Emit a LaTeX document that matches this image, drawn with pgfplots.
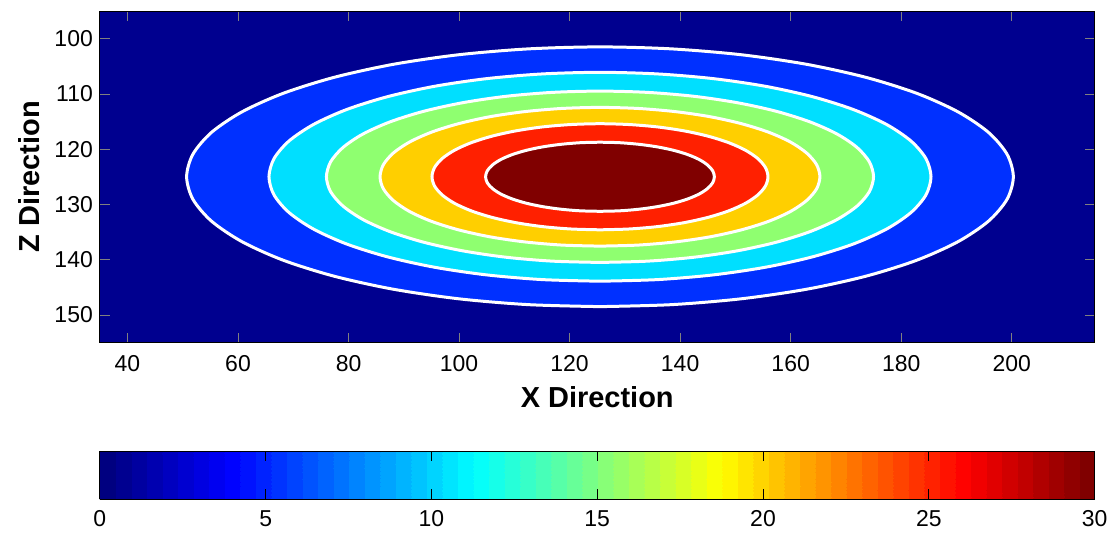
\documentclass[border=0pt]{standalone}
\usepackage{pgfplots}
\pgfplotsset{compat=1.18}
\usepackage{fontspec}
\setmainfont{Liberation Sans}
\definecolor{c0}{RGB}{0,0,143}
\definecolor{c5}{RGB}{0,48,255}
\definecolor{c10}{RGB}{0,223,255}
\definecolor{c15}{RGB}{143,255,112}
\definecolor{c20}{RGB}{255,207,0}
\definecolor{c25}{RGB}{255,32,0}
\definecolor{c30}{RGB}{128,0,0}
\pgfplotsset{colormap={basejet}{rgb255(0cm)=(0,0,128) rgb255(1cm)=(0,0,255) rgb255(3cm)=(0,255,255) rgb255(5cm)=(255,255,0) rgb255(7cm)=(255,0,0) rgb255(8cm)=(128,0,0)}}
\pgfplotsset{colormap={mjet}{samples of colormap=(64 of basejet)}}
\begin{document}
\begin{tikzpicture}
\begin{axis}[
  name=main,
  scale only axis, width=498pt, height=166pt,
  xmin=35, xmax=215, ymin=95, ymax=155, y dir=reverse,
  xtick={40,60,...,200}, ytick={100,110,...,150},
  tick align=inside, major tick length=5pt,
  axis on top,
  axis background/.style={fill=c0},
  /pgf/number format/assume math mode=true,
  ticklabel style={font=\fontsize{11.5}{13}\selectfont},
  xticklabel style={yshift=-3pt},
  xlabel={X Direction}, ylabel={Z Direction},
  label style={font=\bfseries\fontsize{14.5}{17}\selectfont},
  xlabel style={at={([yshift=-32.5pt]axis description cs:0.5,0)}, anchor=base},
  ylabel style={at={([xshift=-30pt]axis description cs:0,0.5)}, anchor=base},
  point meta min=0, point meta max=30,
  colormap name=mjet,
  colormap access=piecewise constant,
  colorbar horizontal,
  colorbar style={
    at={(parent axis.south west)}, anchor=north west, yshift=-46pt,
    scale only axis, width=498pt, height=24pt,
    axis on top,
    xtick={0,5,...,30}, tick align=inside, major tick length=5pt,
    xtick pos=both, xticklabel pos=lower,
    tick style={black, line width=0.5pt},
    ticklabel style={font=\fontsize{11.5}{13}\selectfont},
    xticklabel style={yshift=-2pt},
    /pgf/number format/assume math mode=true,
  },
]
\addplot[smooth, fill=c5, draw=white, line width=1.5pt] coordinates {
(125.5,148.5) (112.51,148.14) (99.92,147.08) (88.1,145.35) (77.42,143) (68.2,140.11) (60.72,136.75) (55.21,133.04) (51.84,129.08) (50.7,125) (51.84,120.92) (55.21,116.96) (60.72,113.25) (68.2,109.89) (77.42,107) (88.1,104.65) (99.92,102.92) (112.51,101.86) (125.5,101.5) (138.49,101.86) (151.08,102.92) (162.9,104.65) (173.58,107) (182.8,109.89) (190.28,113.25) (195.79,116.96) (199.16,120.92) (200.3,125) (199.16,129.08) (195.79,133.04) (190.28,136.75) (182.8,140.11) (173.58,143) (162.9,145.35) (151.08,147.08) (138.49,148.14) (125.5,148.5)
} -- cycle;
\addplot[smooth, fill=c10, draw=white, line width=1.5pt] coordinates {
(125.5,143.9) (115.1,143.61) (105.01,142.76) (95.55,141.37) (87,139.48) (79.61,137.15) (73.63,134.45) (69.21,131.46) (66.51,128.28) (65.6,125) (66.51,121.72) (69.21,118.54) (73.63,115.55) (79.61,112.85) (87,110.52) (95.55,108.63) (105.01,107.24) (115.1,106.39) (125.5,106.1) (135.9,106.39) (145.99,107.24) (155.45,108.63) (164,110.52) (171.39,112.85) (177.38,115.55) (181.79,118.54) (184.49,121.72) (185.4,125) (184.49,128.28) (181.79,131.46) (177.38,134.45) (171.39,137.15) (164,139.48) (155.45,141.37) (145.99,142.76) (135.9,143.61) (125.5,143.9)
} -- cycle;
\addplot[smooth, fill=c15, draw=white, line width=1.5pt] coordinates {
(125.5,140.5) (116.9,140.27) (108.57,139.57) (100.75,138.42) (93.68,136.87) (87.58,134.96) (82.63,132.75) (78.99,130.3) (76.75,127.69) (76,125) (76.75,122.31) (78.99,119.7) (82.63,117.25) (87.58,115.04) (93.68,113.13) (100.75,111.58) (108.57,110.43) (116.9,109.73) (125.5,109.5) (134.1,109.73) (142.43,110.43) (150.25,111.58) (157.32,113.13) (163.42,115.04) (168.37,117.25) (172.02,119.7) (174.25,122.31) (175,125) (174.25,127.69) (172.02,130.3) (168.37,132.75) (163.42,134.96) (157.32,136.87) (150.25,138.42) (142.43,139.57) (134.1,140.27) (125.5,140.5)
} -- cycle;
\addplot[smooth, fill=c20, draw=white, line width=1.5pt] coordinates {
(125.5,137.55) (118.59,137.36) (111.89,136.79) (105.6,135.87) (99.92,134.61) (95.01,133.07) (91.03,131.28) (88.1,129.29) (86.3,127.18) (85.7,125) (86.3,122.82) (88.1,120.71) (91.03,118.72) (95.01,116.93) (99.92,115.39) (105.6,114.13) (111.89,113.21) (118.59,112.64) (125.5,112.45) (132.41,112.64) (139.11,113.21) (145.4,114.13) (151.08,115.39) (155.99,116.93) (159.97,118.72) (162.9,120.71) (164.7,122.82) (165.3,125) (164.7,127.18) (162.9,129.29) (159.97,131.28) (155.99,133.07) (151.08,134.61) (145.4,135.87) (139.11,136.79) (132.41,137.36) (125.5,137.55)
} -- cycle;
\addplot[smooth, fill=c25, draw=white, line width=1.5pt] coordinates {
(125.5,134.6) (120.22,134.45) (115.1,134.02) (110.3,133.31) (105.96,132.35) (102.21,131.17) (99.17,129.8) (96.93,128.28) (95.56,126.67) (95.1,125) (95.56,123.33) (96.93,121.72) (99.17,120.2) (102.21,118.83) (105.96,117.65) (110.3,116.69) (115.1,115.98) (120.22,115.55) (125.5,115.4) (130.78,115.55) (135.9,115.98) (140.7,116.69) (145.04,117.65) (148.79,118.83) (151.83,120.2) (154.07,121.72) (155.44,123.33) (155.9,125) (155.44,126.67) (154.07,128.28) (151.83,129.8) (148.79,131.17) (145.04,132.35) (140.7,133.31) (135.9,134.02) (130.78,134.45) (125.5,134.6)
} -- cycle;
\addplot[smooth, fill=c30, draw=white, line width=1.5pt] coordinates {
(125.5,131.25) (121.9,131.16) (118.42,130.87) (115.15,130.41) (112.19,129.79) (109.64,129.02) (107.57,128.13) (106.05,127.14) (105.11,126.09) (104.8,125) (105.11,123.91) (106.05,122.86) (107.57,121.87) (109.64,120.98) (112.19,120.21) (115.15,119.59) (118.42,119.13) (121.9,118.84) (125.5,118.75) (129.1,118.84) (132.58,119.13) (135.85,119.59) (138.81,120.21) (141.36,120.98) (143.43,121.87) (144.95,122.86) (145.89,123.91) (146.2,125) (145.89,126.09) (144.95,127.14) (143.43,128.13) (141.36,129.02) (138.81,129.79) (135.85,130.41) (132.58,130.87) (129.1,131.16) (125.5,131.25)
} -- cycle;
\end{axis}
\path (main.south west) ++(-50pt,-87pt);
\path (main.north east) ++(9pt,5.5pt);
\end{tikzpicture}
\end{document}
